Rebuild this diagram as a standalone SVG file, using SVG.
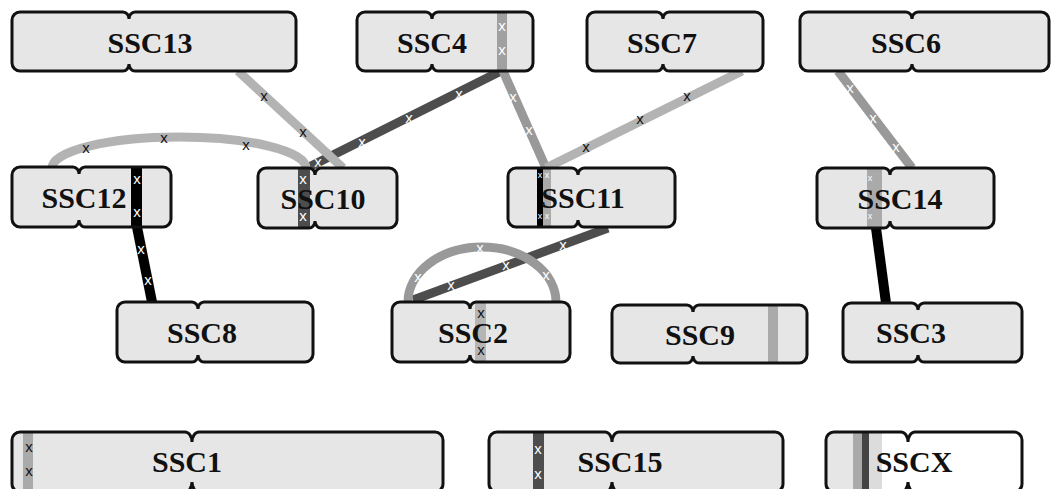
<svg xmlns="http://www.w3.org/2000/svg" xmlns:xlink="http://www.w3.org/1999/xlink" width="1053" height="489" viewBox="0 0 1053 489">
<style>
.fill{fill:#e6e6e6;stroke:none}
.out{fill:none;stroke:#111;stroke-width:3}
.lbl{font-family:"Liberation Serif","Times New Roman",serif;font-weight:bold;font-size:30px;fill:#111;text-anchor:middle}
.xw{font-family:"Liberation Sans",Arial,sans-serif;font-size:15px;fill:#fff;text-anchor:middle}
.xb{font-family:"Liberation Sans",Arial,sans-serif;font-size:15px;fill:#111;text-anchor:middle}
.xs{font-family:"Liberation Sans",Arial,sans-serif;font-size:9px;fill:#fff;text-anchor:middle}
.lk{fill:none;stroke-width:9;stroke-linecap:butt}
.light{stroke:#b3b3b3}
.mid{stroke:#999}
.dark{stroke:#4d4d4d}
.blk{stroke:#000;stroke-width:10}
</style>
<defs>
<path id="p13" d="M20 12 H123 A6 7 0 0 1 129 19 A6 7 0 0 1 135 12 H288 A8 8 0 0 1 296 20 V63 A8 8 0 0 1 288 71 H135 A6 7 0 0 1 129 64 A6 7 0 0 1 123 71 H20 A8 8 0 0 1 12 63 V20 A8 8 0 0 1 20 12 Z"/>
<path id="p4" d="M365 12 H426 A6 7 0 0 1 432 19 A6 7 0 0 1 438 12 H525 A8 8 0 0 1 533 20 V63 A8 8 0 0 1 525 71 H438 A6 7 0 0 1 432 64 A6 7 0 0 1 426 71 H365 A8 8 0 0 1 357 63 V20 A8 8 0 0 1 365 12 Z"/>
<path id="p7" d="M595 12 H657 A6 7 0 0 1 663 19 A6 7 0 0 1 669 12 H755 A8 8 0 0 1 763 20 V63 A8 8 0 0 1 755 71 H669 A6 7 0 0 1 663 64 A6 7 0 0 1 657 71 H595 A8 8 0 0 1 587 63 V20 A8 8 0 0 1 595 12 Z"/>
<path id="p6" d="M808 12 H906 A6 7 0 0 1 912 19 A6 7 0 0 1 918 12 H1041 A8 8 0 0 1 1049 20 V63 A8 8 0 0 1 1041 71 H918 A6 7 0 0 1 912 64 A6 7 0 0 1 906 71 H808 A8 8 0 0 1 800 63 V20 A8 8 0 0 1 808 12 Z"/>
<path id="p12" d="M20 167 H73 A6 7 0 0 1 79 174 A6 7 0 0 1 85 167 H163 A8 8 0 0 1 171 175 V219 A8 8 0 0 1 163 227 H85 A6 7 0 0 1 79 220 A6 7 0 0 1 73 227 H20 A8 8 0 0 1 12 219 V175 A8 8 0 0 1 20 167 Z"/>
<path id="p10" d="M266 168 H309 A6 7 0 0 1 315 175 A6 7 0 0 1 321 168 H389 A8 8 0 0 1 397 176 V220 A8 8 0 0 1 389 228 H321 A6 7 0 0 1 315 221 A6 7 0 0 1 309 228 H266 A8 8 0 0 1 258 220 V176 A8 8 0 0 1 266 168 Z"/>
<path id="p11" d="M516 168 H572 A6 7 0 0 1 578 175 A6 7 0 0 1 584 168 H667 A8 8 0 0 1 675 176 V219 A8 8 0 0 1 667 227 H584 A6 7 0 0 1 578 220 A6 7 0 0 1 572 227 H516 A8 8 0 0 1 508 219 V176 A8 8 0 0 1 516 168 Z"/>
<path id="p14" d="M825 168 H884 A6 7 0 0 1 890 175 A6 7 0 0 1 896 168 H986 A8 8 0 0 1 994 176 V220 A8 8 0 0 1 986 228 H896 A6 7 0 0 1 890 221 A6 7 0 0 1 884 228 H825 A8 8 0 0 1 817 220 V176 A8 8 0 0 1 825 168 Z"/>
<path id="p8" d="M125 302 H192 A6 7 0 0 1 198 309 A6 7 0 0 1 204 302 H305 A8 8 0 0 1 313 310 V354 A8 8 0 0 1 305 362 H204 A6 7 0 0 1 198 355 A6 7 0 0 1 192 362 H125 A8 8 0 0 1 117 354 V310 A8 8 0 0 1 125 302 Z"/>
<path id="p2" d="M400 302 H464 A6 7 0 0 1 470 309 A6 7 0 0 1 476 302 H562 A8 8 0 0 1 570 310 V354 A8 8 0 0 1 562 362 H476 A6 7 0 0 1 470 355 A6 7 0 0 1 464 362 H400 A8 8 0 0 1 392 354 V310 A8 8 0 0 1 400 302 Z"/>
<path id="p9" d="M620 305 H687 A6 7 0 0 1 693 312 A6 7 0 0 1 699 305 H799 A8 8 0 0 1 807 313 V355 A8 8 0 0 1 799 363 H699 A6 7 0 0 1 693 356 A6 7 0 0 1 687 363 H620 A8 8 0 0 1 612 355 V313 A8 8 0 0 1 620 305 Z"/>
<path id="p3" d="M851 303 H912 A6 7 0 0 1 918 310 A6 7 0 0 1 924 303 H1014 A8 8 0 0 1 1022 311 V354 A8 8 0 0 1 1014 362 H924 A6 7 0 0 1 918 355 A6 7 0 0 1 912 362 H851 A8 8 0 0 1 843 354 V311 A8 8 0 0 1 851 303 Z"/>
<path id="p1" d="M20 432 H185 A7 10 0 0 1 192 442 A7 10 0 0 1 199 432 H435 A8 8 0 0 1 443 440 V484 A8 8 0 0 1 435 492 H199 A7 10 0 0 1 192 482 A7 10 0 0 1 185 492 H20 A8 8 0 0 1 12 484 V440 A8 8 0 0 1 20 432 Z"/>
<path id="p15" d="M497 432 H605 A7 10 0 0 1 612 442 A7 10 0 0 1 619 432 H775 A8 8 0 0 1 783 440 V484 A8 8 0 0 1 775 492 H619 A7 10 0 0 1 612 482 A7 10 0 0 1 605 492 H497 A8 8 0 0 1 489 484 V440 A8 8 0 0 1 497 432 Z"/>
<path id="pX" d="M834 432 H901 A7 10 0 0 1 908 442 A7 10 0 0 1 915 432 H1014 A8 8 0 0 1 1022 440 V484 A8 8 0 0 1 1014 492 H915 A7 10 0 0 1 908 482 A7 10 0 0 1 901 492 H834 A8 8 0 0 1 826 484 V440 A8 8 0 0 1 834 432 Z"/>
<clipPath id="c4"><use xlink:href="#p4"/></clipPath>
<clipPath id="c12"><use xlink:href="#p12"/></clipPath>
<clipPath id="c10"><use xlink:href="#p10"/></clipPath>
<clipPath id="c11"><use xlink:href="#p11"/></clipPath>
<clipPath id="c14"><use xlink:href="#p14"/></clipPath>
<clipPath id="c2"><use xlink:href="#p2"/></clipPath>
<clipPath id="c9"><use xlink:href="#p9"/></clipPath>
<clipPath id="c1"><use xlink:href="#p1"/></clipPath>
<clipPath id="c15"><use xlink:href="#p15"/></clipPath>
<clipPath id="cX"><use xlink:href="#pX"/></clipPath>
</defs>
<rect width="1053" height="489" fill="#fff"/>

<g id="connectors">
  <line class="lk dark" x1="501" y1="71" x2="307" y2="168"/>
  <line class="lk light" x1="238" y1="71" x2="343" y2="168"/>
  <path class="lk light" d="M52 168 A127 31 0 0 1 306 168"/>
  <line class="lk mid" x1="503" y1="71" x2="546" y2="168"/>
  <line class="lk light" x1="742" y1="71" x2="546" y2="168"/>
  <line class="lk mid" x1="838" y1="71" x2="912" y2="168"/>
  <line class="lk blk" x1="137" y1="227" x2="152" y2="302"/>
  <line class="lk dark" x1="608" y1="228" x2="413" y2="300"/>
  <path class="lk mid" d="M408 302 A74 55 0 0 1 556 302"/>
  <line class="lk blk" x1="876" y1="228" x2="886" y2="303"/>
  <g id="marks">
    <text class="xb" x="264" y="101">x</text>
    <text class="xb" x="303" y="137">x</text>
    <text class="xw" x="459" y="99">x</text>
    <text class="xw" x="409" y="123">x</text>
    <text class="xw" x="362" y="147">x</text>
    <text class="xw" x="318" y="167">x</text>
    <text class="xb" x="86" y="153">x</text>
    <text class="xb" x="164" y="143">x</text>
    <text class="xb" x="246" y="150">x</text>
    <text class="xw" x="513" y="102">x</text>
    <text class="xw" x="529" y="135">x</text>
    <text class="xb" x="586" y="152">x</text>
    <text class="xb" x="640" y="124">x</text>
    <text class="xb" x="687" y="101">x</text>
    <text class="xw" x="850" y="93">x</text>
    <text class="xw" x="873" y="123">x</text>
    <text class="xw" x="896" y="152">x</text>
    <text class="xw" x="141" y="254">x</text>
    <text class="xw" x="148" y="285">x</text>
    <text class="xw" x="563" y="250">x</text>
    <text class="xw" x="506" y="270">x</text>
    <text class="xw" x="451" y="290">x</text>
    <text class="xw" x="418" y="282">x</text>
    <text class="xw" x="480" y="253">x</text>
    <text class="xw" x="546" y="280">x</text>
  </g>
</g>

<g id="SSC13">
  <use xlink:href="#p13" class="fill"/>
  <use xlink:href="#p13" class="out"/>
  <text class="lbl" x="150" y="53">SSC13</text>
</g>
<g id="SSC4">
  <use xlink:href="#p4" class="fill"/>
  <rect x="497" y="10" width="10" height="64" fill="#a0a0a0" clip-path="url(#c4)"/>
  <text class="xw" x="502" y="31">x</text>
  <text class="xw" x="502" y="55">x</text>
  <use xlink:href="#p4" class="out"/>
  <text class="lbl" x="432" y="53">SSC4</text>
</g>
<g id="SSC7">
  <use xlink:href="#p7" class="fill"/>
  <use xlink:href="#p7" class="out"/>
  <text class="lbl" x="662" y="53">SSC7</text>
</g>
<g id="SSC6">
  <use xlink:href="#p6" class="fill"/>
  <use xlink:href="#p6" class="out"/>
  <text class="lbl" x="906" y="53">SSC6</text>
</g>
<g id="SSC12">
  <use xlink:href="#p12" class="fill"/>
  <rect x="131" y="165" width="11" height="64" fill="#000" clip-path="url(#c12)"/>
  <text class="xw" x="137" y="184">x</text>
  <text class="xw" x="137" y="217">x</text>
  <use xlink:href="#p12" class="out"/>
  <text class="lbl" x="84" y="208">SSC12</text>
</g>
<g id="SSC10">
  <use xlink:href="#p10" class="fill"/>
  <rect x="298" y="166" width="12" height="64" fill="#4d4d4d" clip-path="url(#c10)"/>
  <text class="xw" x="303" y="184">x</text>
  <text class="xw" x="303" y="221">x</text>
  <use xlink:href="#p10" class="out"/>
  <text class="lbl" x="323" y="209">SSC10</text>
</g>
<g id="SSC11">
  <use xlink:href="#p11" class="fill"/>
  <rect x="537" y="166" width="6" height="64" fill="#000" clip-path="url(#c11)"/>
  <rect x="543" y="166" width="8" height="64" fill="#aaa" clip-path="url(#c11)"/>
  <text class="xs" x="540" y="178">x</text>
  <text class="xs" x="547" y="178">x</text>
  <text class="xs" x="540" y="219">x</text>
  <text class="xs" x="547" y="219">x</text>
  <use xlink:href="#p11" class="out"/>
  <text class="lbl" x="583" y="208">SSC11</text>
</g>
<g id="SSC14">
  <use xlink:href="#p14" class="fill"/>
  <rect x="867" y="166" width="15" height="64" fill="#aaa" clip-path="url(#c14)"/>
  <text class="xs" x="870" y="181">x</text>
  <text class="xs" x="870" y="219">x</text>
  <use xlink:href="#p14" class="out"/>
  <text class="lbl" x="900" y="209">SSC14</text>
</g>
<g id="SSC8">
  <use xlink:href="#p8" class="fill"/>
  <use xlink:href="#p8" class="out"/>
  <text class="lbl" x="202" y="343">SSC8</text>
</g>
<g id="SSC2">
  <use xlink:href="#p2" class="fill"/>
  <rect x="475" y="300" width="11" height="64" fill="#b5b5b5" clip-path="url(#c2)"/>
  <text class="xb" x="481" y="318">x</text>
  <text class="xb" x="481" y="355">x</text>
  <use xlink:href="#p2" class="out"/>
  <text class="lbl" x="473" y="343">SSC2</text>
</g>
<g id="SSC9">
  <use xlink:href="#p9" class="fill"/>
  <rect x="768" y="303" width="10" height="62" fill="#aaa" clip-path="url(#c9)"/>
  <use xlink:href="#p9" class="out"/>
  <text class="lbl" x="700" y="345">SSC9</text>
</g>
<g id="SSC3">
  <use xlink:href="#p3" class="fill"/>
  <use xlink:href="#p3" class="out"/>
  <text class="lbl" x="911" y="343">SSC3</text>
</g>
<g id="SSC1">
  <use xlink:href="#p1" class="fill"/>
  <rect x="23" y="430" width="10" height="64" fill="#aaa" clip-path="url(#c1)"/>
  <text class="xb" x="29" y="452">x</text>
  <text class="xb" x="29" y="476">x</text>
  <use xlink:href="#p1" class="out"/>
  <text class="lbl" x="187" y="472">SSC1</text>
</g>
<g id="SSC15">
  <use xlink:href="#p15" class="fill"/>
  <rect x="533" y="430" width="11" height="64" fill="#4d4d4d" clip-path="url(#c15)"/>
  <text class="xw" x="538" y="454">x</text>
  <text class="xw" x="538" y="479">x</text>
  <use xlink:href="#p15" class="out"/>
  <text class="lbl" x="620" y="472">SSC15</text>
</g>
<g id="SSCX">
  <use xlink:href="#pX" fill="#fff"/>
  <g clip-path="url(#cX)">
    <rect x="824" y="430" width="29" height="64" fill="#e6e6e6"/>
    <rect x="853" y="430" width="9" height="64" fill="#aaa"/>
    <rect x="862" y="430" width="7" height="64" fill="#444"/>
    <rect x="869" y="430" width="13" height="64" fill="#dcdcdc"/>
  </g>
  <use xlink:href="#pX" class="out"/>
  <text class="lbl" x="914" y="472">SSCX</text>
</g>
</svg>
